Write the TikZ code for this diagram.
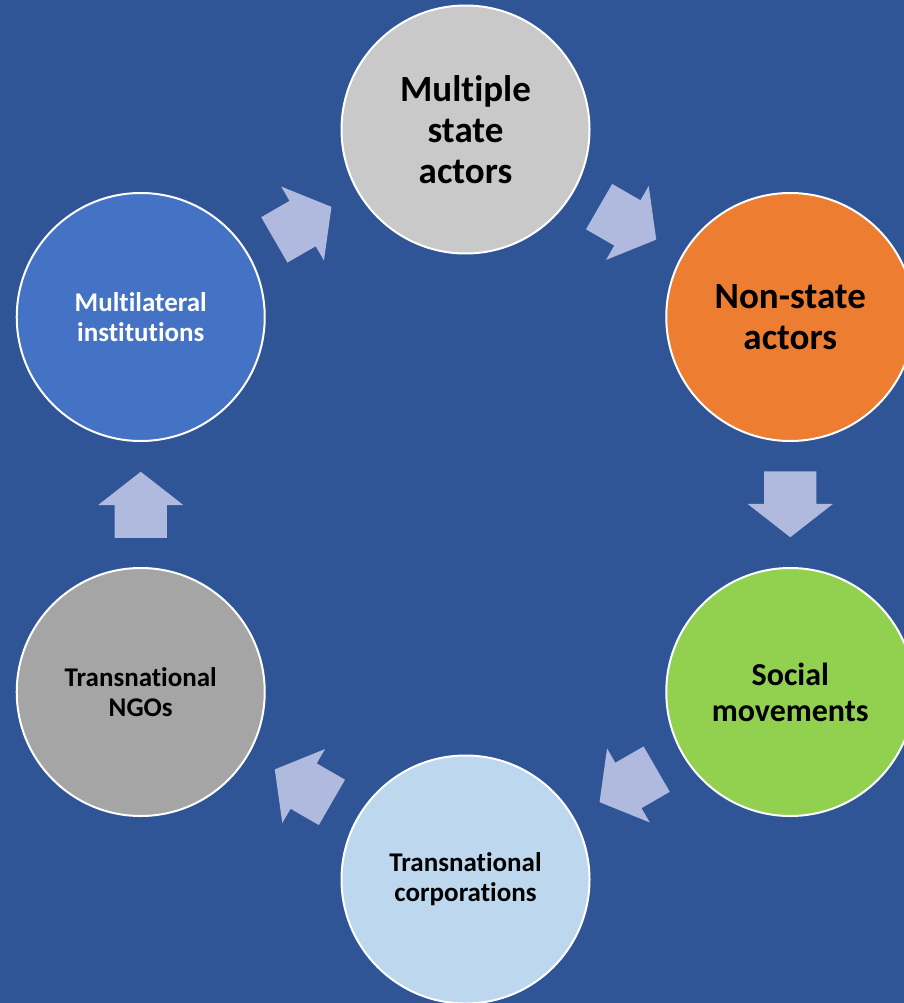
\documentclass[tikz,border=0pt]{standalone}
\usepackage{fontspec}
\setmainfont{Carlito}[Ligatures=NoCommon]
\usetikzlibrary{shapes.arrows}

\definecolor{bgblue}{HTML}{2F5597}
\definecolor{flowblue}{HTML}{AFBADE}
\definecolor{stategray}{HTML}{C9C9C9}
\definecolor{nonstateorange}{HTML}{ED7D31}
\definecolor{socialgreen}{HTML}{92D050}
\definecolor{corplight}{HTML}{BDD7EE}
\definecolor{ngogray}{HTML}{A5A5A5}
\definecolor{multiblue}{HTML}{4472C4}

\begin{document}
\begin{tikzpicture}[x=1pt,y=1pt,
  actor/.style={circle,draw=white,line width=2pt,minimum size=248pt,inner sep=0pt,align=center},
  bigtext/.style={font=\fontsize{37}{41}\selectfont\bfseries},
  midtext/.style={font=\fontsize{32}{36}\selectfont\bfseries},
  smalltext/.style={font=\fontsize{27}{30}\selectfont\bfseries},
  flow/.style={single arrow,fill=flowblue,draw=none,minimum height=66pt,
    inner xsep=0pt,inner ysep=26pt,single arrow head extend=16.5pt,
    single arrow tip angle=104,sloped,allow upside down,pos=0.764,anchor=tip}]
\useasboundingbox[fill=bgblue] (0,0) rectangle (904,-1003);
\coordinate (c) at (465.5,-504.5);

\node[actor,fill=stategray,bigtext] (msa) at ([shift={(90:375)}]c) {Multiple\\state\\actors};
\node[actor,fill=nonstateorange,bigtext] (nsa) at ([shift={(30:375)}]c) {Non-state\\actors};
\node[actor,fill=socialgreen,midtext] (som) at ([shift={(-30:375)}]c) {Social\\movements};
\node[actor,fill=corplight,smalltext] (tnc) at ([shift={(-90:375)}]c) {Transnational\\corporations};
\node[actor,fill=ngogray,smalltext] (ngo) at ([shift={(-150:375)}]c) {Transnational\\NGOs};
\node[actor,fill=multiblue,smalltext,text=white] (mli) at ([shift={(150:375)}]c) {Multilateral\\institutions};

\path (mli) -- node[flow] {} (msa)
(msa) -- node[flow] {} (nsa)
(nsa) -- node[flow] {} (som)
(som) -- node[flow] {} (tnc)
(tnc) -- node[flow] {} (ngo)
(ngo) -- node[flow] {} (mli);
\end{tikzpicture}
\end{document}
